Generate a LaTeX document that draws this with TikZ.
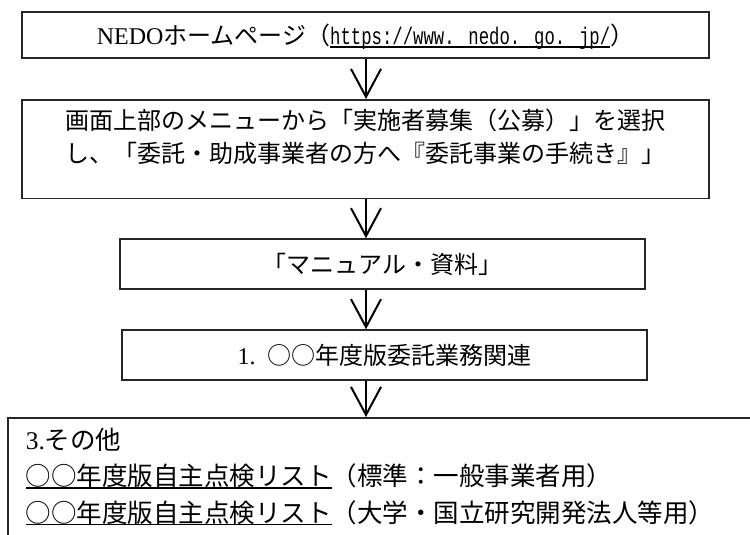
\documentclass[tikz,border=0pt]{standalone}
\usepackage{fontspec}
\usetikzlibrary{arrows.meta}
\setmainfont{Liberation Serif}
\newfontfamily\jp{Noto Sans CJK JP}
\newfontfamily\urlf[FakeStretch=0.72]{Liberation Mono}
\newsavebox{\ulbox}
\newcommand{\ul}[1]{\leavevmode\sbox{\ulbox}{#1}\rlap{\rule[-3.2pt]{\wd\ulbox}{1.6pt}}\usebox{\ulbox}}
\newcommand{\lat}[1]{{\rmfamily #1}}
\tikzstyle{flowbox}=[rectangle,draw=black!85,line width=1.5pt,inner sep=0pt,align=center,font=\jp\fontsize{24}{33}\selectfont]
\tikzstyle{onebox}=[flowbox,text height=20,text depth=1]
\tikzstyle{flowarrow}=[line width=2pt,-{Straight Barb[length=28pt,width=30pt]}]
\newcommand{\picunit}{1pt}

\begin{document}
\begin{tikzpicture}[x=\picunit,y=-\picunit]
    \useasboundingbox (0,0) rectangle (750,535);
    \node[onebox,minimum width=687,minimum height=46] (home) at (365.5,35) {\lat{NEDO}ホームページ（\ul{\urlf https://www. nedo. go. jp/}）};
    \node[flowbox,anchor=north,minimum width=687,inner ysep=9,text depth=27] (menu) at (365.5,99) {画面上部のメニューから「実施者募集（公募）」を選択\\し、「委託・助成事業者の方へ『委託事業の手続き』」};
    \node[onebox,minimum width=525,minimum height=50] (manual) at (382.5,264) {「マニュアル・資料」};
    \node[onebox,minimum width=525,minimum height=50] (nendo) at (384.5,355) {\lat{1.}\enspace ○○年度版委託業務関連};
%   last box runs off the page at right and bottom
    \node[flowbox,anchor=north west,text width=760,align=left,inner xsep=18,inner ysep=10,text depth=80,font=\jp\fontsize{25.5}{36.5}\selectfont] (other) at (7,417) {\lat{3.}その他\\\ul{○○年度版自主点検リスト}（標準：一般事業者用）\\\ul{○○年度版自主点検リスト}（大学・国立研究開発法人等用）};
    \coordinate (ax) at (366,0);
    \draw[flowarrow] (ax |- home.south) -- (ax |- menu.north);
    \draw[flowarrow] (ax |- menu.south) -- (ax |- manual.north);
    \draw[flowarrow] (ax |- manual.south) -- (ax |- nendo.north);
    \draw[flowarrow] (ax |- nendo.south) -- (ax |- other.north);
\end{tikzpicture}
\end{document}
